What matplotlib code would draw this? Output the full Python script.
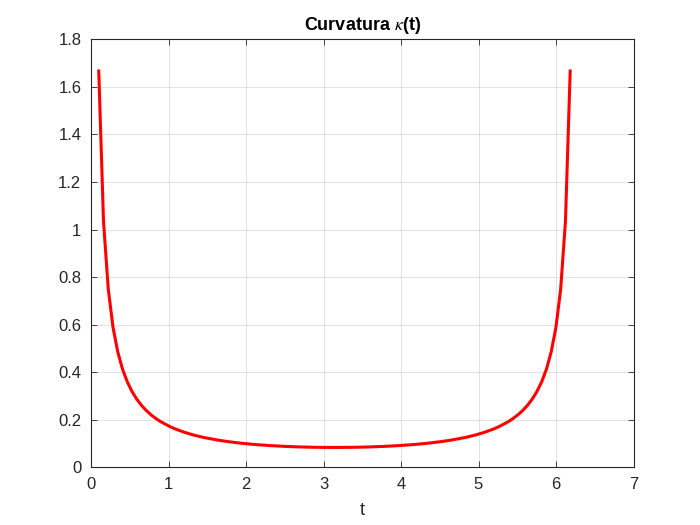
import matplotlib
matplotlib.use("Agg")
import matplotlib.pyplot as plt

t_values = [0.1, 0.16145, 0.22289, 0.28434, 0.34578, 0.40723, 0.46868, 0.53012,
            0.59157, 0.65302, 0.71446, 0.77591, 0.83735, 0.8988, 1.02169, 1.0831,
            1.20603, 1.3289, 1.45181, 1.6362, 1.75904, 1.9434, 2.12772, 2.3121,
            2.4964, 2.6807, 2.86508, 3.1109, 3.1723, 3.41811, 3.6025, 3.78679,
            3.9711, 4.15547, 4.3398, 4.52415, 4.6470, 4.83138, 4.9543, 5.07716,
            5.2001, 5.2615, 5.3844, 5.44584, 5.50728, 5.5687, 5.63017, 5.6916,
            5.75307, 5.8145, 5.8760, 5.9374, 5.9989, 6.0603, 6.1218, 6.1832]
kappa_values = [1.667, 1.0335, 0.7493, 0.5881, 0.4844, 0.4121, 0.3589, 0.3181,
                0.2859, 0.2598, 0.2383, 0.2203, 0.2050, 0.1918, 0.1704, 0.1617,
                0.1469, 0.1351, 0.1255, 0.1142, 0.1082, 0.1009, 0.0953, 0.0911,
                0.0879, 0.0856, 0.0841, 0.0833, 0.0833, 0.0841, 0.0856, 0.0879,
                0.0911, 0.0953, 0.1009, 0.1082, 0.1142, 0.1255, 0.1351, 0.1469,
                0.1617, 0.1704, 0.1918, 0.2050, 0.2203, 0.2383, 0.2598, 0.2859,
                0.3181, 0.3589, 0.4121, 0.4844, 0.5881, 0.7493, 1.0335, 1.667]
x_ticks = [0, 1, 2, 3, 4, 5, 6, 7]
y_ticks = [0, 0.2, 0.4, 0.6, 0.8, 1, 1.2, 1.4, 1.6, 1.8]
y_tick_labels = ["0", "0.2", "0.4", "0.6", "0.8", "1", "1.2", "1.4", "1.6", "1.8"]

plt.rcParams['font.family'] = ['Liberation Sans', 'DejaVu Sans']
plt.rcParams['mathtext.fontset'] = 'stix'

fig = plt.figure(figsize=(7, 5.25), dpi=100)
ax = fig.add_axes([0.13, 0.11, 0.775, 0.815])
ax.plot(t_values, kappa_values, color=(1, 0, 0), linewidth=2.2)
ax.set_xlim(0, 7)
ax.set_ylim(0, 1.8)
ax.set_xticks(x_ticks)
ax.set_yticks(y_ticks)
ax.set_yticklabels(y_tick_labels)
ax.grid(True, color=(0.15, 0.15, 0.15), alpha=0.15, linewidth=0.6)
ax.tick_params(direction='in', length=4, width=0.6, labelsize=12, colors=(0.15, 0.15, 0.15),
               top=True, right=True, pad=7)
for s in ax.spines.values():
    s.set_color((0.15, 0.15, 0.15))
    s.set_linewidth(0.8)
ax.set_xlabel("t", fontsize=13, color=(0.15, 0.15, 0.15), labelpad=7)
ax.set_title(r"Curvatura $\kappa$(t)", fontsize=13, fontweight='bold', pad=7)
fig.savefig("out.png", dpi=100)
